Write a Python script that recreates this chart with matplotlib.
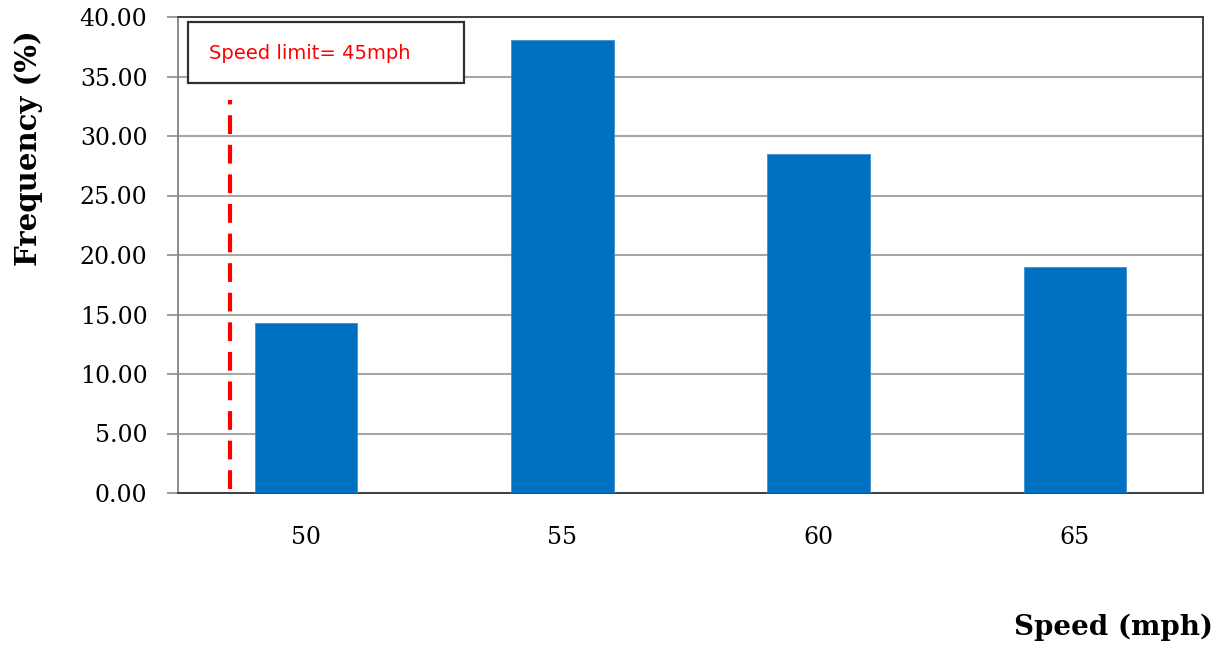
import matplotlib.pyplot as plt
from matplotlib.patches import Rectangle

speeds = ["50", "55", "60", "65"]
frequency = [14.25, 38.1, 28.5, 19.0]
yticks = [0, 5, 10, 15, 20, 25, 30, 35, 40]

fig = plt.figure(figsize=(12.22, 6.45), dpi=100)
ax = fig.add_axes([178 / 1222, 1 - 493 / 645, 1025 / 1222, 476 / 645])

x = range(len(speeds))
ax.bar(x, frequency, width=0.4, color="#0070C0", edgecolor="#3d8fd6",
       linewidth=0.6, zorder=3)

ax.set_xlim(-0.5, len(speeds) - 0.5)
ax.set_ylim(0, 40)
ax.set_yticks(yticks)
ax.set_yticklabels(["%.2f" % v for v in yticks], family="DejaVu Serif", fontsize=17)
ax.set_xticks(list(x))
ax.set_xticklabels(speeds, family="DejaVu Serif", fontsize=17)
ax.tick_params(axis="x", length=0, pad=24)
ax.tick_params(axis="y", length=8, width=1.2, color="#8c8c8c", pad=14)
ax.yaxis.grid(True, color="#a6a6a6", linewidth=1.5, zorder=0)

for side in ["top", "right", "bottom"]:
    ax.spines[side].set_color("#404040")
    ax.spines[side].set_linewidth(1.4)
ax.spines["left"].set_color("#8c8c8c")
ax.spines["left"].set_linewidth(1.4)

# speed limit marker
ax.plot([-0.297, -0.297], [0.3, 33.0], color="#ff0000", linewidth=3,
        dashes=(4.5, 2.6), zorder=4)
ax.add_patch(Rectangle((0.0098, 0.861), 0.269, 0.128, transform=ax.transAxes,
                       facecolor="white", edgecolor="#303030", linewidth=1.6,
                       zorder=5))
ax.text(0.030, 0.924, "Speed limit= 45mph", transform=ax.transAxes,
        color="#ff0000", fontsize=14, family="DejaVu Sans", ha="left",
        va="center", zorder=6)

fig.text(0.023, 1 - 148 / 645, "Frequency (%)", rotation=90, ha="center",
         va="center", family="DejaVu Serif", fontweight="bold", fontsize=21)
fig.text(1213 / 1222, 1 - 627 / 645, "Speed (mph)", ha="right", va="center",
         family="DejaVu Serif", fontweight="bold", fontsize=20)

fig.savefig("out.png", dpi=100)
